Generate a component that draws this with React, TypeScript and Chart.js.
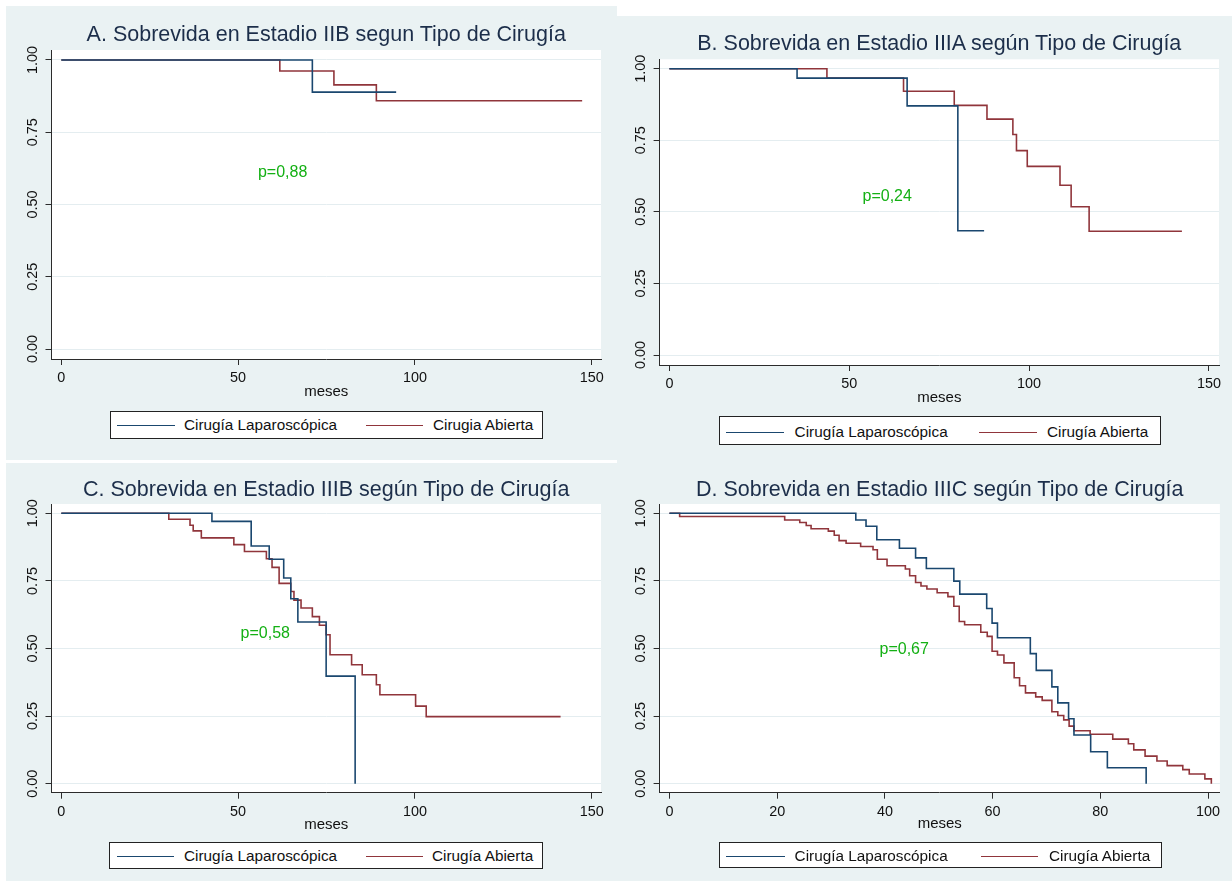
import React, { useEffect, useRef } from "react";
import { Chart, registerables } from "chart.js";

Chart.register(...registerables);

const FONT = '"Liberation Sans", Arial, Helvetica, sans-serif';
const NAVY = "#1a476f";
const MAROON = "#90353b";
const PANEL_BG = "#eaf2f3";
const GRID = "#e4edf0";
const AXIS = "#2b2b2b";
const TITLE_COLOR = "#1c2e4a";
const P_COLOR = "#14b014";

// ---------------- data ----------------
const xTicks150 = [0, 50, 100, 150];
const xTicks100 = [0, 20, 40, 60, 80, 100];
const yTicks = [0, 0.25, 0.5, 0.75, 1];
const xAxisTitle = "meses";

const titles = [
  "A. Sobrevida en Estadio IIB segun Tipo de Cirugía",
  "B. Sobrevida en Estadio IIIA según Tipo de Cirugía",
  "C. Sobrevida en Estadio IIIB según Tipo de Cirugía",
  "D. Sobrevida en Estadio IIIC según Tipo de Cirugía",
];
const pLabels = ["p=0,88", "p=0,24", "p=0,58", "p=0,67"];
const pX = [55.6, 53.7, 50.7, 39.0];
const pY = [0.609, 0.553, 0.554, 0.497];

const lapLabels = ["Cirugía Laparoscópica", "Cirugía Laparoscópica", "Cirugía Laparoscópica", "Cirugía Laparoscópica"];
const abiLabels = ["Cirugia Abierta", "Cirugía Abierta", "Cirugía Abierta", "Cirugía Abierta"];

// Panel A (IIB)
const aLapTime = [0, 71.0, 94.7];
const aLapSurv = [1, 0.889, 0.889];
const aAbiTime = [0, 61.8, 77.1, 89.1, 147.3];
const aAbiSurv = [1, 0.962, 0.914, 0.859, 0.859];

// Panel B (IIIA)
const bLapTime = [0, 35.5, 66.1, 80.2, 87.5];
const bLapSurv = [1, 0.967, 0.87, 0.434, 0.434];
const bAbiTime = [0, 43.8, 65.1, 79.2, 88.3, 95.5, 96.5, 99.5, 108.6, 111.7, 116.7, 142.5];
const bAbiSurv = [1, 0.967, 0.921, 0.872, 0.824, 0.77, 0.714, 0.659, 0.593, 0.518, 0.432, 0.432];

// Panel C (IIIB)
const cLapTime = [0, 42.6, 53.7, 58.8, 62.9, 64.9, 66.9, 74.9, 83.1];
const cLapSurv = [1, 0.97, 0.879, 0.83, 0.761, 0.684, 0.598, 0.398, 0];
const cAbiTime = [0, 30.4, 36.4, 37.3, 39.6, 48.8, 51.8, 58.0, 59.6, 61.6, 64.9, 65.8, 67.8, 71.0, 73.0, 74.9, 76.0, 82.1, 85.1, 89.1, 90.1, 100.2, 103.2, 141.2];
const cAbiSurv = [1, 0.978, 0.956, 0.935, 0.909, 0.884, 0.859, 0.832, 0.8, 0.741, 0.711, 0.679, 0.65, 0.618, 0.586, 0.551, 0.477, 0.44, 0.403, 0.366, 0.329, 0.287, 0.248, 0.248];

// Panel D (IIIC)
const dLapTime = [0, 34.6, 36.5, 38.5, 42.7, 45.7, 47.7, 52.8, 53.9, 58.9, 59.9, 60.9, 67.0, 68.1, 71.0, 72.1, 74.1, 75.1, 78.2, 81.3, 88.5];
const dLapSurv = [1, 0.975, 0.952, 0.902, 0.871, 0.835, 0.796, 0.749, 0.701, 0.648, 0.594, 0.54, 0.481, 0.419, 0.358, 0.299, 0.24, 0.18, 0.118, 0.059, 0];
const dAbiTime = [0, 1.9, 21.4, 24.2, 25.4, 26.3, 29.5, 30.6, 31.5, 32.8, 35.5, 37.8, 38.6, 40.4, 43.8, 44.6, 45.7, 46.7, 47.8, 49.7, 51.7, 52.8, 53.8, 54.8, 57.8, 59.0, 59.9, 60.9, 62.1, 64.0, 65.0, 66.1, 68.0, 69.2, 71.0, 72.1, 73.2, 74.2, 75.1, 78.1, 82.3, 85.2, 86.2, 88.3, 90.5, 92.4, 95.3, 96.5, 99.4, 100.6];
const dAbiSurv = [1, 0.988, 0.975, 0.966, 0.955, 0.943, 0.934, 0.919, 0.899, 0.889, 0.877, 0.865, 0.83, 0.806, 0.794, 0.769, 0.744, 0.731, 0.72, 0.706, 0.692, 0.656, 0.6, 0.588, 0.56, 0.545, 0.49, 0.476, 0.447, 0.392, 0.362, 0.336, 0.321, 0.308, 0.266, 0.252, 0.236, 0.213, 0.196, 0.183, 0.165, 0.148, 0.125, 0.102, 0.084, 0.067, 0.052, 0.036, 0.018, 0];

// ---------------- layout ----------------
type Panel = {
  box: number[]; // canvas / background rect x,y,w,h
  area: number[]; // plot region L,T,R,B
  xRange: number[];
  yRange: number[];
  xTicks: number[];
  xTitleH: number;
  titleCY: number;
  lap: [number[], number[]];
  abi: [number[], number[]];
  legend: { box: number[]; lapLine: number[]; lapText: number; abiLine: number[]; abiText: number; cy: number };
};

const panels: Panel[] = [
  {
    box: [6, 6, 611, 454],
    area: [51.5, 50, 601, 359],
    xRange: [-2.77, 152.63],
    yRange: [-0.0346, 1.0346],
    xTicks: xTicks150,
    xTitleH: 42,
    titleCY: 35,
    lap: [aLapTime, aLapSurv],
    abi: [aAbiTime, aAbiSurv],
    legend: { box: [110, 411, 433, 28], lapLine: [116, 174], lapText: 183, abiLine: [365, 422], abiText: 432, cy: 425.3 },
  },
  {
    box: [617, 16, 615, 444],
    area: [659.6, 59.3, 1219, 365],
    xRange: [-2.72, 152.81],
    yRange: [-0.0349, 1.0328],
    xTicks: xTicks150,
    xTitleH: 41.7,
    titleCY: 43.5,
    lap: [bLapTime, bLapSurv],
    abi: [bAbiTime, bAbiSurv],
    legend: { box: [719, 416, 442, 29], lapLine: [725, 783], lapText: 793.6, abiLine: [978, 1036], abiText: 1046, cy: 431.7 },
  },
  {
    box: [6, 463, 611, 418],
    area: [51.5, 504, 601, 792.7],
    xRange: [-2.77, 152.63],
    yRange: [-0.0333, 1.0344],
    xTicks: xTicks150,
    xTitleH: 40.7,
    titleCY: 490,
    lap: [cLapTime, cLapSurv],
    abi: [cAbiTime, cAbiSurv],
    legend: { box: [109, 842, 434, 27], lapLine: [116, 173], lapText: 183, abiLine: [365, 422], abiText: 431, cy: 855.7 },
  },
  {
    box: [617, 460, 615, 421],
    area: [659.6, 504, 1219.9, 792.7],
    xRange: [-1.82, 102.19],
    yRange: [-0.0333, 1.0344],
    xTicks: xTicks100,
    xTitleH: 40,
    titleCY: 490,
    lap: [dLapTime, dLapSurv],
    abi: [dAbiTime, dAbiSurv],
    legend: { box: [719, 842, 443, 26], lapLine: [725, 784], lapText: 793.6, abiLine: [979.5, 1037], abiText: 1048, cy: 855.7 },
  },
];

const toPts = (t: number[], s: number[]) => t.map((x, i) => ({ x, y: s[i] }));

function KMChart({ p, idx }: { p: Panel; idx: number }) {
  const ref = useRef<HTMLCanvasElement>(null);
  useEffect(() => {
    const [cx, cy, cw, ch] = p.box;
    const [L, T, R, B] = p.area;
    const yW = L - cx;
    const xH = p.xTitleH;

    const bgPlugin = {
      id: "plotBg" + idx,
      beforeDraw(chart: any) {
        const a = chart.chartArea;
        const ctx = chart.ctx;
        ctx.save();
        ctx.fillStyle = "#ffffff";
        ctx.fillRect(a.left, a.top, a.right - a.left, a.bottom - a.top);
        ctx.restore();
      },
    };
    const yLabelPlugin = {
      id: "yLabels" + idx,
      afterDraw(chart: any) {
        const ys = chart.scales.y;
        const ctx = chart.ctx;
        ctx.save();
        ctx.font = `14.4px ${FONT}`;
        ctx.fillStyle = "#111";
        ctx.textAlign = "center";
        ctx.textBaseline = "middle";
        for (const t of ys.ticks) {
          const py = ys.getPixelForValue(t.value);
          ctx.save();
          ctx.translate(chart.chartArea.left - 18.8, py);
          ctx.rotate(-Math.PI / 2);
          ctx.fillText(Number(t.value).toFixed(2), 0, 0);
          ctx.restore();
        }
        ctx.restore();
      },
    };
    const pPlugin = {
      id: "pText" + idx,
      afterDatasetsDraw(chart: any) {
        const ctx = chart.ctx;
        ctx.save();
        ctx.font = `16px ${FONT}`;
        ctx.fillStyle = P_COLOR;
        ctx.textAlign = "left";
        ctx.textBaseline = "middle";
        ctx.fillText(pLabels[idx], chart.scales.x.getPixelForValue(pX[idx]), chart.scales.y.getPixelForValue(pY[idx]));
        ctx.restore();
      },
    };

    const chart = new Chart(ref.current as HTMLCanvasElement, {
      type: "line",
      data: {
        datasets: [
          {
            label: lapLabels[idx],
            data: toPts(p.lap[0], p.lap[1]),
            borderColor: NAVY,
            borderWidth: 1.6,
            stepped: "before",
            pointRadius: 0,
            fill: false,
          },
          {
            label: abiLabels[idx],
            data: toPts(p.abi[0], p.abi[1]),
            borderColor: MAROON,
            borderWidth: 1.6,
            stepped: "before",
            pointRadius: 0,
            fill: false,
          },
        ],
      },
      options: {
        animation: false,
        responsive: false,
        maintainAspectRatio: false,
        events: [],
        layout: { padding: { left: 0, top: T - cy, right: cx + cw - R, bottom: cy + ch - B - xH } },
        plugins: { legend: { display: false }, title: { display: false }, tooltip: { enabled: false } },
        scales: {
          x: {
            type: "linear",
            min: p.xRange[0],
            max: p.xRange[1],
            afterBuildTicks: (s: any) => {
              s.ticks = p.xTicks.map((v) => ({ value: v }));
            },
            afterFit: (s: any) => {
              s.height = xH;
            },
            grid: { drawOnChartArea: false, drawTicks: true, tickLength: 6, tickColor: AXIS, tickWidth: 1 },
            border: { display: true, color: AXIS, width: 1 },
            ticks: {
              autoSkip: false,
              maxRotation: 0,
              padding: 4.4,
              color: "#111",
              font: { family: FONT, size: 14.4 },
              callback: (v: any) => String(v),
            },
            title: { display: true, text: xAxisTitle, color: "#111", font: { family: FONT, size: 15 }, padding: 0 },
          },
          y: {
            type: "linear",
            min: p.yRange[0],
            max: p.yRange[1],
            afterBuildTicks: (s: any) => {
              s.ticks = yTicks.map((v) => ({ value: v }));
            },
            afterFit: (s: any) => {
              s.width = yW;
            },
            grid: { color: GRID, lineWidth: 1, drawTicks: true, tickLength: 6, tickColor: AXIS, tickWidth: 1 },
            border: { display: true, color: AXIS, width: 1 },
            ticks: { display: false },
          },
        },
      } as any,
      plugins: [bgPlugin, yLabelPlugin, pPlugin],
    });
    return () => chart.destroy();
  }, [p, idx]);

  const [cx, cy, cw, ch] = p.box;
  return (
    <canvas
      ref={ref}
      width={cw}
      height={ch}
      style={{ position: "absolute", left: cx, top: cy, width: cw, height: ch }}
    />
  );
}

function Legend({ p, idx }: { p: Panel; idx: number }) {
  const lg = p.legend;
  const [bx, by, bw, bh] = lg.box;
  const fs = 15.3;
  const lineStyle = (x1: number, x2: number, color: string): React.CSSProperties => ({
    position: "absolute",
    left: x1 - bx,
    top: lg.cy - by - 1,
    width: x2 - x1,
    height: 0,
    borderTop: `1.8px solid ${color}`,
  });
  const textStyle = (x: number): React.CSSProperties => ({
    position: "absolute",
    left: x - bx,
    top: lg.cy - by - fs * 0.58,
    fontSize: fs,
    lineHeight: `${fs}px`,
    whiteSpace: "nowrap",
    color: "#111",
  });
  return (
    <div
      style={{
        position: "absolute",
        left: bx,
        top: by,
        width: bw,
        height: bh,
        boxSizing: "border-box",
        border: "1.3px solid #222",
        background: "#fff",
      }}
    >
      <div style={lineStyle(lg.lapLine[0], lg.lapLine[1], NAVY)} />
      <div style={textStyle(lg.lapText)}>{lapLabels[idx]}</div>
      <div style={lineStyle(lg.abiLine[0], lg.abiLine[1], MAROON)} />
      <div style={textStyle(lg.abiText)}>{abiLabels[idx]}</div>
    </div>
  );
}

export default function App() {
  return (
    <div
      style={{
        position: "absolute",
        left: 0,
        top: 0,
        width: 1232,
        height: 881,
        background: "#ffffff",
        overflow: "hidden",
        fontFamily: FONT,
      }}
    >
      {panels.map((p, i) => (
        <div
          key={"bg" + i}
          style={{ position: "absolute", left: p.box[0], top: p.box[1], width: p.box[2], height: p.box[3], background: PANEL_BG }}
        />
      ))}
      {panels.map((p, i) => (
        <KMChart key={"c" + i} p={p} idx={i} />
      ))}
      {panels.map((p, i) => {
        const cxTitle = (p.area[0] + p.area[2]) / 2;
        const fs = 21.5;
        return (
          <div
            key={"t" + i}
            style={{
              position: "absolute",
              left: cxTitle - 400,
              width: 800,
              top: p.titleCY - fs * 0.5,
              fontSize: fs,
              lineHeight: `${fs}px`,
              textAlign: "center",
              color: TITLE_COLOR,
              whiteSpace: "nowrap",
            }}
          >
            {titles[i]}
          </div>
        );
      })}
      {panels.map((p, i) => (
        <Legend key={"l" + i} p={p} idx={i} />
      ))}
    </div>
  );
}
